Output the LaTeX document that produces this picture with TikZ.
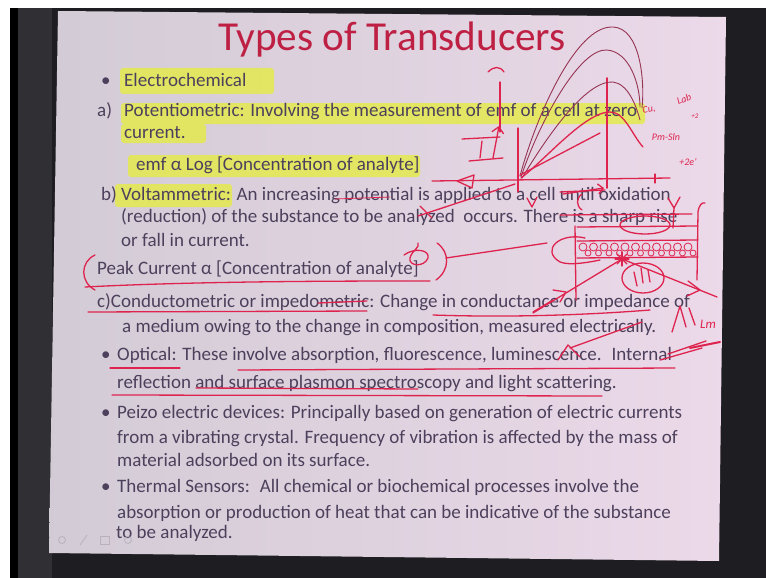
\documentclass[tikz,border=0pt]{standalone}
\usepackage{fontspec}
\setmainfont{Carlito}
\usetikzlibrary{arrows.meta}
\definecolor{frameC}{RGB}{30,29,34}
\definecolor{frameL}{RGB}{48,47,52}
\definecolor{slideL}{RGB}{210,203,213}
\definecolor{slideR}{RGB}{236,217,233}
\definecolor{txt}{RGB}{76,64,92}
\definecolor{ttl}{RGB}{190,32,68}
\definecolor{hl}{RGB}{228,234,78}
\definecolor{hred}{RGB}{222,36,78}
\definecolor{hmar}{RGB}{150,52,84}
\definecolor{iconC}{RGB}{185,178,190}
\begin{document}
\begin{tikzpicture}[x=1pt,y=-1pt,
  tl/.style={anchor=base west, inner sep=0pt, text=txt, font=\fontsize{19}{22}\selectfont},
  hilite/.style={fill=hl, opacity=0.85, rounded corners=3pt},
  hand/.style={draw=hred, line width=1.3pt, line cap=round, line join=round},
  mar/.style={draw=hmar, line width=0.9pt, line cap=round},
  hw/.style={text=hred, inner sep=0pt, font=\itshape\fontsize{10}{11}\selectfont},
  icon/.style={draw=iconC, line width=0.8pt}]
\useasboundingbox (0,0) rectangle (766,578);
% frame
\fill[frameC] (0,0) rectangle (766,578);
\fill[frameL] (18,8) rectangle (52,578);
\fill[black] (10,8) rectangle (18,578);
\fill[white] (0,0) rectangle (766,8);
\fill[white] (0,0) rectangle (10,578);
% slide
\begin{scope}
\clip (58,11) -- (726,17) -- (719,561) -- (49,553) -- cycle;
\shade[left color=slideL, right color=slideR] (40,5) rectangle (730,570);
\end{scope}
% highlights
\fill[hilite] (120,68) rectangle (274,94);
\fill[hilite] (121,103) rectangle (645,124);
\fill[hilite] (121,124) rectangle (206,143);
\fill[hilite] (128,155) rectangle (420,177);
\fill[hilite] (115,184) rectangle (232,207);
% title
\node[anchor=base west, inner sep=0pt, text=ttl, font=\fontsize{41.2}{45}\selectfont] (title) at (218,51) {Types of Transducers};
% text
\node[tl] (b1) at (101,87) {•};
\node[tl] (l1) at (124,87) {Electrochemical};
\node[tl] (la) at (97,117) {a)};
\node[tl] (l2) at (124,117) {Potentiometric: Involving the measurement of emf of a cell at zero};
\node[tl] (l3) at (124,138) {current.};
\node[tl] (l4) at (136,170) {emf α Log [Concentration of analyte]};
\node[tl] (l5) at (101,200) {b) Voltammetric: An increasing potential is applied to a cell until oxidation};
\node[tl] (l6) at (121,222) {(reduction) of the substance to be analyzed \ occurs. There is a sharp rise};
\node[tl] (l7) at (121,246) {or fall in current.};
\node[tl] (l8) at (97,274) {Peak Current α [Concentration of analyte]};
\node[tl] (l9) at (97,307) {c)Conductometric or impedometric: Change in conductance or impedance of};
\node[tl] (l10) at (122,332) {a medium owing to the change in composition, measured electrically.};
\node[tl] (b2) at (101,360) {•};
\node[tl] (l11) at (117,360) {Optical: These involve absorption, fluorescence, luminescence. \ Internal};
\node[tl] (l12) at (117,388) {reflection and surface plasmon spectroscopy and light scattering.};
\node[tl] (b3) at (101,418) {•};
\node[tl] (l13) at (117,418) {Peizo electric devices: Principally based on generation of electric currents};
\node[tl] (l14) at (117,443) {from a vibrating crystal. Frequency of vibration is affected by the mass of};
\node[tl] (l15) at (117,466) {material adsorbed on its surface.};
\node[tl] (b4) at (101,492) {•};
\node[tl] (l16) at (117,492) {Thermal Sensors: \ All chemical or biochemical processes involve the};
\node[tl] (l17) at (117,518) {absorption or production of heat that can be indicative of the substance};
\node[tl] (l18) at (116,538) {to be analyzed.};
% icons
\draw[icon] (62,540) circle (3.5);
\draw[icon] (80,545) -- (87,535);
\draw[icon] (100,536) rectangle (109,544);
\draw[icon] (128,540) circle (3.5);
% ---- handwriting: graph ----
\draw[hand] (432,181) -- (670,178);
\draw[hand] (655,174) -- (655,183);
\draw[hand] (457,181) -- (474,175) -- (472,188) -- cycle;
\draw[hand] (518,128) -- (518,192);
\draw[hand, line width=1.8pt] (607,78) -- (607,188);
\draw[hand, -{Straight Barb[length=5pt]}] (563,194) -- (604,188);
\draw[mar] (520,176) .. controls (535,120) and (575,25) .. (613,27) .. controls (640,28) and (645,80) .. (642,108);
\draw[mar] (521,177) .. controls (540,120) and (580,48) .. (607,50) .. controls (630,52) and (640,85) .. (640,107);
\draw[mar] (522,178) .. controls (545,140) and (585,80) .. (613,82) .. controls (628,84) and (636,105) .. (640,120);
\draw[hand] (521,178) .. controls (545,160) and (585,112) .. (610,112) .. controls (625,112) and (632,135) .. (643,147);
\draw[hand] (520,175) -- (600,133);
\draw[hand] (488,72) .. controls (494,66) and (500,66) .. (504,72);
\draw[hand] (500,82) -- (500,132);
\draw[hand] (462,139) -- (500,137);
\draw[hand] (482,141) -- (480,158);
\draw[hand] (469,161) -- (503,158);
\draw[hand, -{Straight Barb[length=6pt]}] (493,158) -- (499,126);
\node[hw, rotate=10] (cu) at (649,110) {Cu,};
\node[hw, rotate=20] (lab) at (684,99) {Lab};
\node[hw, font=\itshape\fontsize{7}{8}\selectfont] (p2) at (695,116) {+2};
\node[hw] (pm) at (666,137) {Pm-Sln};
\node[hw] (e2) at (688,162) {+2e’};
% ---- handwriting: voltammetric ----
\draw[hand, line width=0.8pt] (335,199) -- (390,197);
\draw[hand] (418,216) -- (515,184);
\draw[hand] (420,206) -- (432,218);
\draw[hand] (527,198) -- (532,207) -- (537,197);
\draw[hand] (560,192) -- (605,190);
\draw[hand] (582,194) .. controls (576,198) and (576,206) .. (582,210);
% apparatus
\draw[hand] (560,215) -- (692,214);
\draw[hand] (577,227) -- (698,226);
\draw[hand] (577,241) -- (698,240);
\draw[hand] (577,258) -- (698,257);
\draw[hand] (575,226) -- (576,300);
\draw[hand] (697,280) -- (698,212) .. controls (699,205) and (702,202) .. (705,203);
\foreach \i in {0,...,10} {
  \draw[hand, line width=0.8pt] (583+\i*10.5,247) circle (4);
  \draw[hand, line width=0.8pt] (588+\i*10.5,253) circle (3);
}
\draw[hand] (585,238) .. controls (560,232) and (540,250) .. (560,262) .. controls (570,266) and (590,262) .. (600,260);
\draw[hand] (645,225) ellipse (25 and 9);
\draw[hand] (668,198) -- (674,208) -- (680,197);
\draw[hand] (674,208) -- (673,228);
\draw[hand] (643,278) ellipse (21 and 15);
\draw[hand] (634,272) -- (637,286);
\draw[hand] (641,268) -- (643,283);
\draw[hand] (648,270) -- (650,282);
\draw[hand] (533,313) -- (622,259);
\draw[hand] (622,259) -- (717,297);
\draw[hand] (553,290) -- (566,292) -- (560,302);
\draw[hand] (688,281) -- (700,290) -- (687,296);
\foreach \a in {0,45,...,315} \draw[hand] (622,259) -- ++(\a:7);
\draw[hand] (672,332) -- (680,306) -- (686,327);
\draw[hand] (689,308) -- (695,325);
\node[hw, font=\itshape\fontsize{13}{14}\selectfont] (lm) at (708,324) {Lm};
% peak current
\draw[hand] (95,255) .. controls (80,262) and (80,282) .. (95,290);
\draw[hand] (85,287) .. controls (200,281) and (350,281) .. (430,281);
\draw[hand] (404,255) .. controls (415,247) and (430,250) .. (428,258) .. controls (424,268) and (408,266) .. (410,258) .. controls (412,250) and (420,248) .. (418,243);
\draw[hand] (437,243) .. controls (450,252) and (450,270) .. (436,280);
\draw[hand] (446,258) -- (547,243);
% conductometric
\draw[hand] (88,312) -- (367,311);
\draw[hand] (318,303) -- (367,301);
\draw[hand] (433,315) .. controls (520,318) and (600,314) .. (650,310);
\draw[hand] (533,312) -- (553,300);
% optical
\draw[hand] (558,360) -- (568,345) -- (580,357);
\draw[hand] (570,348) -- (642,322);
\draw[hand] (110,368) -- (180,368);
\draw[hand] (238,370) -- (675,368);
\draw[hand] (112,395) -- (602,396);
\draw[hand] (196,388) -- (418,389);
\draw[hand] (660,360) -- (702,348);
\draw[hand] (668,354) -- (706,341);
\draw[hand, line width=2pt] (690,348) -- (720,342);
\end{tikzpicture}
\end{document}
